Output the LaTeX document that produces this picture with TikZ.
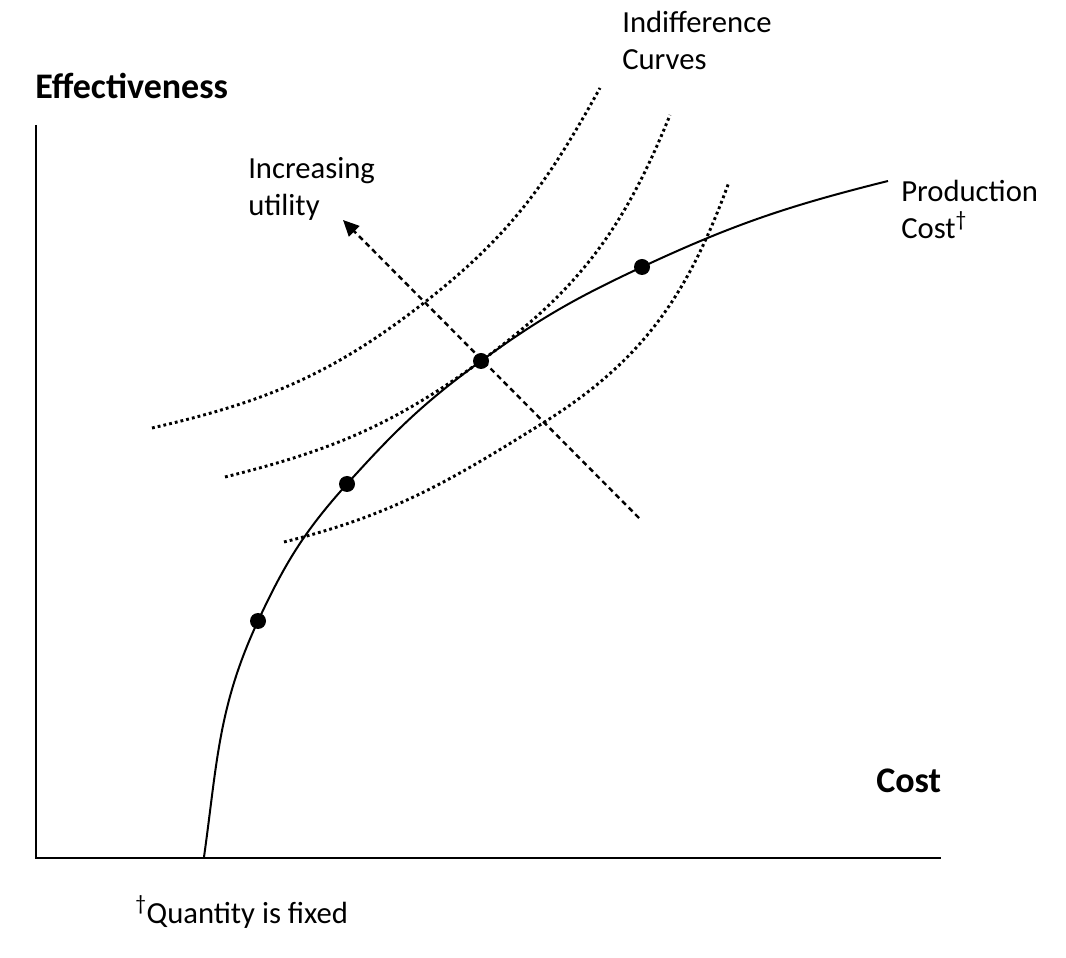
\documentclass[tikz,border=0pt]{standalone}
\usepackage{fontspec}
\setmainfont{Carlito}
\usetikzlibrary{arrows.meta}

\begin{document}
\begin{tikzpicture}[x=0.75pt,y=0.75pt,inner sep=0pt,
  axis/.style={line width=1.6pt},
  prodcurve/.style={line width=1.5pt},
  indiff/.style={line width=2.2pt,dash pattern=on 2.1pt off 2.3pt},
  utilarrow/.style={line width=1.8pt,dash pattern=on 4pt off 3pt,
    -{Triangle[length=12pt,width=11pt]}},
  dot/.style={circle,fill=black,minimum size=12pt},
  lbl/.style={font=\fontsize{23}{28}\selectfont,align=left,anchor=base west},
  axlbl/.style={font=\fontsize{27}{32}\selectfont\bfseries,anchor=base west}]
  \useasboundingbox (0,0) rectangle (1066,957);
  % axes
  \coordinate (top) at (36,832);
  \coordinate (origin) at (36,99);
  \coordinate (right) at (941,99);
  \draw [axis] (top) -- (origin) -- (right);
  \node [axlbl] (effect) at (35,858) {Effectiveness};
  \node [axlbl] (cost) at (876,165) {Cost};
  % production cost
  \coordinate (pstart) at (204,100);
  \coordinate (p1) at (258,336);
  \coordinate (p2) at (347,473);
  \coordinate (p3) at (481,596);
  \coordinate (p4) at (642,690);
  \coordinate (pend) at (888,776);
  \draw [prodcurve] (pstart) to[out=82,in=245] (p1) to[out=65,in=228] (p2)
    to[out=48,in=216] (p3) to[out=36,in=205] (p4) to[out=25,in=194] (pend);
  % indifference curves
  \coordinate (a1) at (152,529);
  \coordinate (a2) at (425,655);
  \coordinate (a3) at (600,869);
  \draw [indiff] (a1) to[out=13,in=218] (a2) to[out=38,in=241] (a3);
  \coordinate (b1) at (225,480);
  \coordinate (b3) at (670,842);
  \draw [indiff] (b1) to[out=14,in=216] (p3) to[out=36,in=248] (b3);
  \coordinate (c1) at (284,415);
  \coordinate (c2) at (543,534);
  \coordinate (c3) at (729,775);
  \draw [indiff] (c1) to[out=14,in=212] (c2) to[out=32,in=250] (c3);
  % dots
  \foreach \p in {p1,p2,p3,p4}
    \node [dot] (\p dot) at (\p) {};
  % utility direction
  \coordinate (ustart) at (639,439);
  \coordinate (uend) at (343,737);
  \draw [utilarrow] (ustart) -- (uend);
  % labels
  \node [lbl] (indlbl) at (622,887) {Indifference\\Curves};
  \node [lbl] (utillbl) at (248,741) {Increasing\\utility};
  \node [lbl] (prodlbl) at (901,718) {Production\\Cost\textsuperscript{\dag}};
  \node [lbl] (note) at (135,34) {\textsuperscript{\dag}Quantity is fixed};
\end{tikzpicture}
\end{document}
